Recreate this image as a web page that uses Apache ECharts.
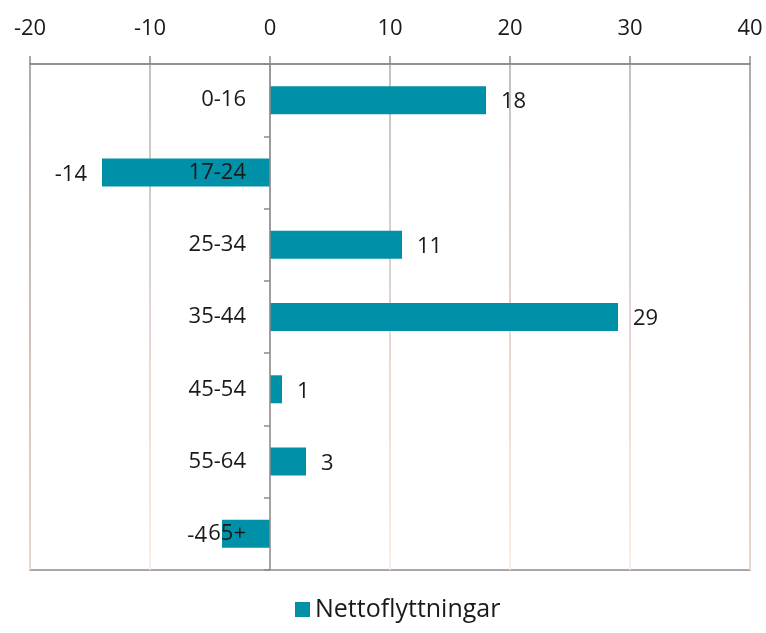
<!DOCTYPE html>
<html>
<head>
<meta charset="utf-8">
<script src="https://cdn.jsdelivr.net/npm/echarts@6/dist/echarts.min.js"></script>
<style>
  html, body { margin: 0; padding: 0; background: #fff; }
  #chart { width: 766px; height: 633px; }
</style>
</head>
<body>
<div id="chart"></div>
<script>
// nettoflyttningar per aldersgrupp
var categories = ['0-16', '17-24', '25-34', '35-44', '45-54', '55-64', '65+'];
var values = [18, -14, 11, 29, 1, 3, -4];
var seriesName = 'Nettoflyttningar';
var xMin = -20, xMax = 40, xStep = 10;

var font = 'Open Sans';
var fontSize = 22;
var textColor = '#1a1a1a';
var barColor = '#0091a9';

var gridLeft = 30, gridRight = 16;
var plotWidth = 766 - gridLeft - gridRight;
// move the category axis to x = 0
var zeroOffset = -plotWidth * (0 - xMin) / (xMax - xMin);

var myChart = echarts.init(document.getElementById('chart'));

var barData = [];
for (var i = 0; i < values.length; i++) {
    barData.push({
        value: values[i],
        label: { position: values[i] < 0 ? 'left' : 'right' }
    });
}

var option = {
    animation: false,
    grid: {
        left: gridLeft,
        right: gridRight,
        top: 64,
        bottom: 63,
        outerBoundsMode: 'none',
        containLabel: false,
        show: true,
        borderColor: '#8c8c8c',
        borderWidth: 1.5
    },
    legend: {
        bottom: 6,
        left: 290,
        itemWidth: 15,
        itemHeight: 15,
        itemGap: 8,
        icon: 'rect',
        textStyle: { fontFamily: font, fontSize: 25, color: textColor },
        data: [seriesName]
    },
    xAxis: {
        type: 'value',
        position: 'top',
        min: xMin,
        max: xMax,
        interval: xStep,
        axisLine: { show: true, lineStyle: { color: '#8c8c8c', width: 1.5 } },
        axisTick: { show: true, length: 8, lineStyle: { color: '#8c8c8c', width: 1.5 } },
        axisLabel: { fontFamily: font, fontSize: fontSize, color: textColor, margin: 24 },
        splitLine: {
            show: true,
            lineStyle: {
                width: 1.5,
                color: {
                    type: 'linear', x: 0, y: 64, x2: 0, y2: 570, global: true,
                    colorStops: [
                        { offset: 0, color: '#b3aca8' },
                        { offset: 1, color: '#fce6d8' }
                    ]
                }
            }
        }
    },
    yAxis: {
        type: 'category',
        inverse: true,
        data: categories,
        offset: zeroOffset,
        axisLine: { show: true, onZero: false, lineStyle: { color: '#8c8c8c', width: 1.5 } },
        axisTick: { show: true, length: 6, lineStyle: { color: '#8c8c8c', width: 1.5 } },
        axisLabel: { fontFamily: font, fontSize: fontSize, color: textColor, margin: 24 },
        z: 5
    },
    series: [
        {
            name: seriesName,
            type: 'bar',
            data: barData,
            barWidth: 28,
            itemStyle: { color: barColor },
            label: {
                show: true,
                distance: 15,
                fontFamily: font,
                fontSize: fontSize,
                color: textColor,
                offset: [0, 2]
            }
        }
    ]
};
myChart.setOption(option);
</script>
</body>
</html>
